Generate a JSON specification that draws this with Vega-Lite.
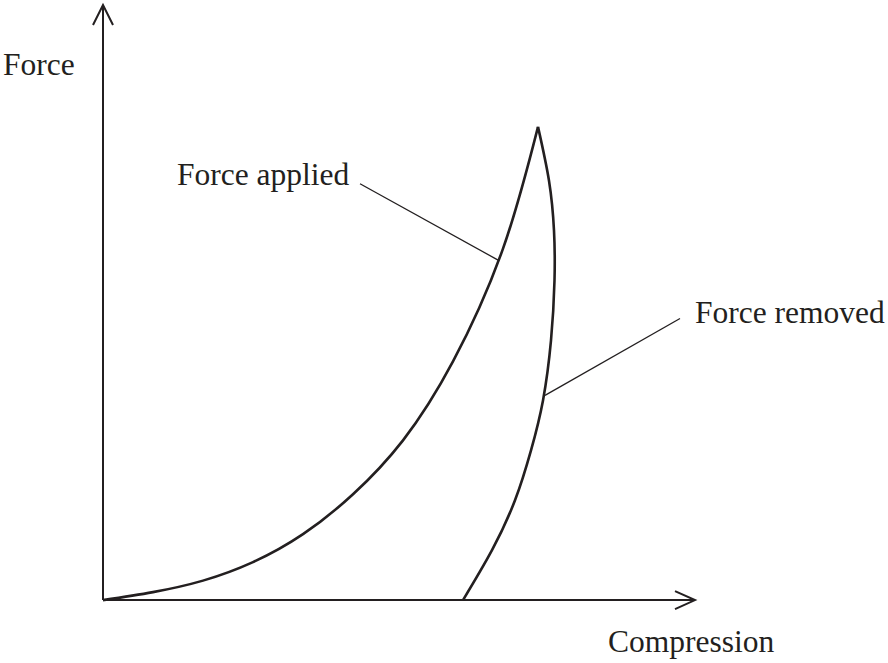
{
  "$schema": "https://vega.github.io/schema/vega-lite/v6.json",
  "width": 888,
  "height": 663,
  "autosize": {"type": "fit", "contains": "padding"},
  "padding": 0,
  "background": "white",
  "config": {"view": {"stroke": null}},
  "datasets": {
    "axes": [
      {"part": "yaxis", "i": 0, "x": 0, "y": 0},
      {"part": "yaxis", "i": 1, "x": 0, "y": 59.6},
      {"part": "xaxis", "i": 0, "x": 0, "y": 0},
      {"part": "xaxis", "i": 1, "x": 59.2, "y": 0},
      {"part": "yarrow", "i": 0, "x": -1.0, "y": 57.6},
      {"part": "yarrow", "i": 1, "x": 0, "y": 59.6},
      {"part": "yarrow", "i": 2, "x": 1.0, "y": 57.6},
      {"part": "xarrow", "i": 0, "x": 57.2, "y": 0.9},
      {"part": "xarrow", "i": 1, "x": 59.2, "y": 0},
      {"part": "xarrow", "i": 2, "x": 57.2, "y": -0.9}
    ],
    "curves": [
      {"part": "applied", "i": 0, "x": 0, "y": 0},
      {"part": "applied", "i": 1, "x": 5, "y": 0.8},
      {"part": "applied", "i": 2, "x": 10, "y": 1.95},
      {"part": "applied", "i": 3, "x": 15, "y": 3.8},
      {"part": "applied", "i": 4, "x": 20, "y": 6.6},
      {"part": "applied", "i": 5, "x": 25, "y": 10.6},
      {"part": "applied", "i": 6, "x": 30, "y": 16.0},
      {"part": "applied", "i": 7, "x": 35, "y": 23.9},
      {"part": "applied", "i": 8, "x": 40, "y": 35.2},
      {"part": "applied", "i": 9, "x": 43.5, "y": 47.4},
      {"part": "removed", "i": 0, "x": 43.5, "y": 47.4},
      {"part": "removed", "i": 1, "x": 44.6, "y": 42},
      {"part": "removed", "i": 2, "x": 45.1, "y": 37},
      {"part": "removed", "i": 3, "x": 45.15, "y": 32},
      {"part": "removed", "i": 4, "x": 44.8, "y": 26},
      {"part": "removed", "i": 5, "x": 44.0, "y": 20},
      {"part": "removed", "i": 6, "x": 42.8, "y": 15},
      {"part": "removed", "i": 7, "x": 41.2, "y": 10},
      {"part": "removed", "i": 8, "x": 38.9, "y": 5},
      {"part": "removed", "i": 9, "x": 36.0, "y": 0}
    ],
    "leaders": [
      {"part": "applied", "i": 0, "x": 25.7, "y": 41.7},
      {"part": "applied", "i": 1, "x": 39.6, "y": 34.0},
      {"part": "removed", "i": 0, "x": 57.7, "y": 28.2},
      {"part": "removed", "i": 1, "x": 44.2, "y": 20.5}
    ],
    "labels": [
      {"label": "Force", "x": -10.0, "y": 52.6},
      {"label": "Force applied", "x": 7.4, "y": 41.6},
      {"label": "Force removed", "x": 59.2, "y": 27.8},
      {"label": "Compression", "x": 50.5, "y": -5.2}
    ]
  },
  "layer": [
    {
      "data": {"name": "axes"},
      "mark": {"type": "line", "color": "#231f20", "strokeWidth": 2, "strokeJoin": "miter", "strokeCap": "butt"},
      "encoding": {
        "x": {"field": "x", "type": "quantitative", "scale": {"domain": [-10.3, 78.5], "nice": false, "zero": false}, "axis": null},
        "y": {"field": "y", "type": "quantitative", "scale": {"domain": [-6.3, 60], "nice": false, "zero": false}, "axis": null},
        "detail": {"field": "part"},
        "order": {"field": "i", "type": "quantitative"}
      }
    },
    {
      "data": {"name": "curves"},
      "mark": {"type": "line", "color": "#231f20", "strokeWidth": 2.6, "interpolate": "natural"},
      "encoding": {
        "x": {"field": "x", "type": "quantitative", "axis": null},
        "y": {"field": "y", "type": "quantitative", "axis": null},
        "detail": {"field": "part"},
        "order": {"field": "i", "type": "quantitative"}
      }
    },
    {
      "data": {"name": "leaders"},
      "mark": {"type": "line", "color": "#231f20", "strokeWidth": 1.3},
      "encoding": {
        "x": {"field": "x", "type": "quantitative", "axis": null},
        "y": {"field": "y", "type": "quantitative", "axis": null},
        "detail": {"field": "part"},
        "order": {"field": "i", "type": "quantitative"}
      }
    },
    {
      "data": {"name": "labels"},
      "mark": {"type": "text", "align": "left", "baseline": "alphabetic", "font": "Liberation Serif", "fontSize": 31.5, "color": "#231f20"},
      "encoding": {
        "x": {"field": "x", "type": "quantitative", "axis": null},
        "y": {"field": "y", "type": "quantitative", "axis": null},
        "text": {"field": "label"}
      }
    }
  ]
}
